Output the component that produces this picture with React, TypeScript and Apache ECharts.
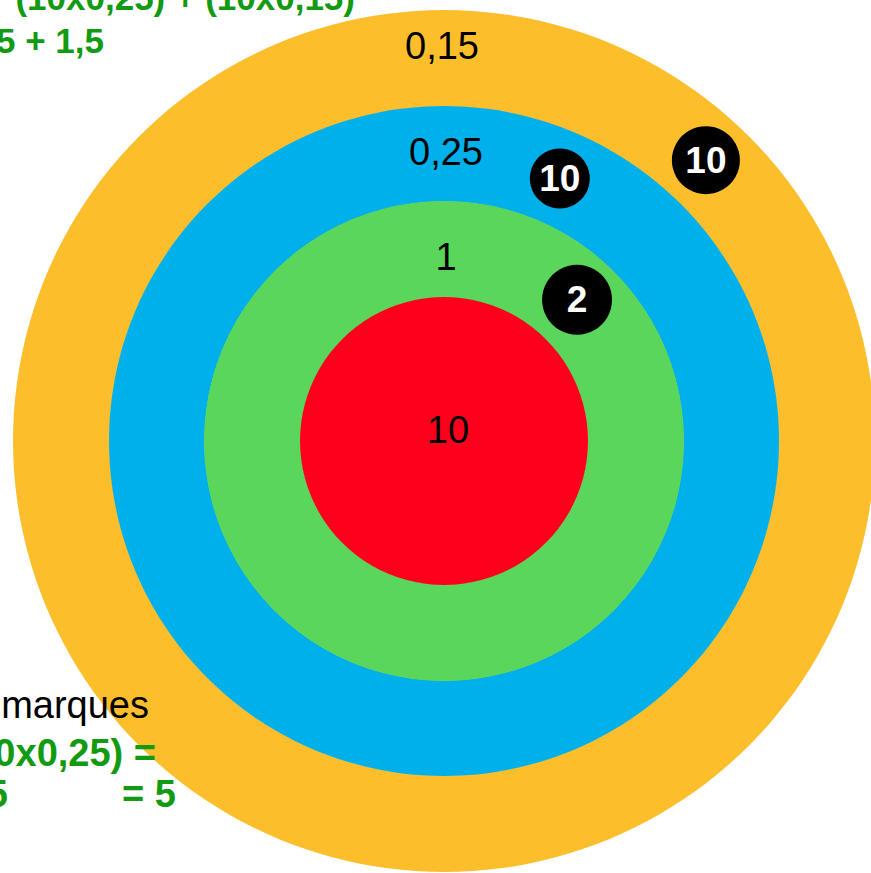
import React, { useEffect, useRef } from "react";
import * as echarts from "echarts";

// Target rings, from the outside in: points per mark in each ring
const ringValues = ["0,15", "0,25", "1", "10"];
// Marks (black discs): polar radius (px from centre), angle (deg), count written on the disc
const markRadius = [287, 384, 194];
const markAngle = [66.2, 47.0, 46.7];
const markCount = [10, 10, 2];
// Calculation notes beside the target (partly cut off by the frame)
const topLines = ["(10x0,25) + (10x0,15)", "2,5 + 1,5"];
const bottomLines = ["marques", "(10x0,25) =", "2,5", "= 5"];

const FONT = "'Liberation Sans', Arial, Helvetica, sans-serif";
const CENTER = [444, 441];
const ringOuter = [431, 335, 240, 144];
const ringColors = ["#FDBE2C", "#00B0EA", "#5AD65A", "#FF001C"];
const ringDx = [-2, 2, 2, 4];
const ringDy = [-9, 1, 11, -11];
const markSize = [60, 68, 70];
const GREEN = "#129A12";

export default function App() {
  const ref = useRef<HTMLDivElement>(null);
  useEffect(() => {
    if (!ref.current) return;
    const chart = echarts.init(ref.current, undefined, { renderer: "svg" });
    const ringSeries = ringValues.map((v, i) => {
      const outer = ringOuter[i];
      const inner = i < ringOuter.length - 1 ? ringOuter[i + 1] - 0.5 : 0;
      const isCore = i === ringOuter.length - 1;
      return {
        type: "pie",
        center: CENTER,
        radius: [inner, outer],
        startAngle: 270,
        silent: true,
        z: 1,
        itemStyle: { color: ringColors[i], borderWidth: 0 },
        label: {
          show: true,
          position: isCore ? "center" : "inside",
          formatter: "{b}",
          color: "#000",
          fontFamily: FONT,
          fontSize: 38,
          rotate: 0,
        },
        labelLine: { show: false },
        labelLayout: { dx: ringDx[i], dy: ringDy[i] },
        emphasis: { disabled: true },
        data: [{ name: v, value: 1 }],
      };
    });

    const textEl = (text: string, x: number, y: number, align: string, size: number, bold: boolean, color: string) => ({
      type: "text",
      z: 100,
      style: {
        text,
        x,
        y,
        align,
        verticalAlign: "middle",
        fill: color,
        font: `${bold ? "bold " : ""}${size}px ${FONT}`,
      },
    });

    chart.setOption({
      animation: false,
      backgroundColor: "#ffffff",
      polar: { center: CENTER, radius: ringOuter[0] },
      angleAxis: { type: "value", min: 0, max: 360, startAngle: 0, clockwise: false, show: false },
      radiusAxis: { type: "value", min: 0, max: ringOuter[0], show: false },
      series: [
        ...ringSeries,
        {
          type: "scatter",
          coordinateSystem: "polar",
          silent: true,
          z: 5,
          symbol: "circle",
          itemStyle: { color: "#000", opacity: 1 },
          label: {
            show: true,
            position: "inside",
            color: "#fff",
            fontWeight: "bold",
            fontFamily: FONT,
            fontSize: 37,
            formatter: (p: any) => String(p.data.count),
          },
          data: markCount.map((c, i) => ({
            value: [markRadius[i], markAngle[i]],
            count: c,
            symbolSize: markSize[i],
          })),
        },
      ],
      graphic: [
        textEl(topLines[0], 355, -2.5, "right", 35, true, GREEN),
        textEl(topLines[1], 104, 40.5, "right", 35, true, GREEN),
        textEl(bottomLines[0], 149, 705, "right", 38, false, "#000"),
        textEl(bottomLines[1], 156, 753, "right", 38, true, GREEN),
        textEl(bottomLines[2], 8, 794, "right", 38, true, GREEN),
        textEl(bottomLines[3], 122, 794, "left", 38, true, GREEN),
      ],
    });
    return () => chart.dispose();
  }, []);
  return (
    <div
      ref={ref}
      style={{ position: "fixed", left: 0, top: 0, width: 871, height: 873 }}
    />
  );
}
